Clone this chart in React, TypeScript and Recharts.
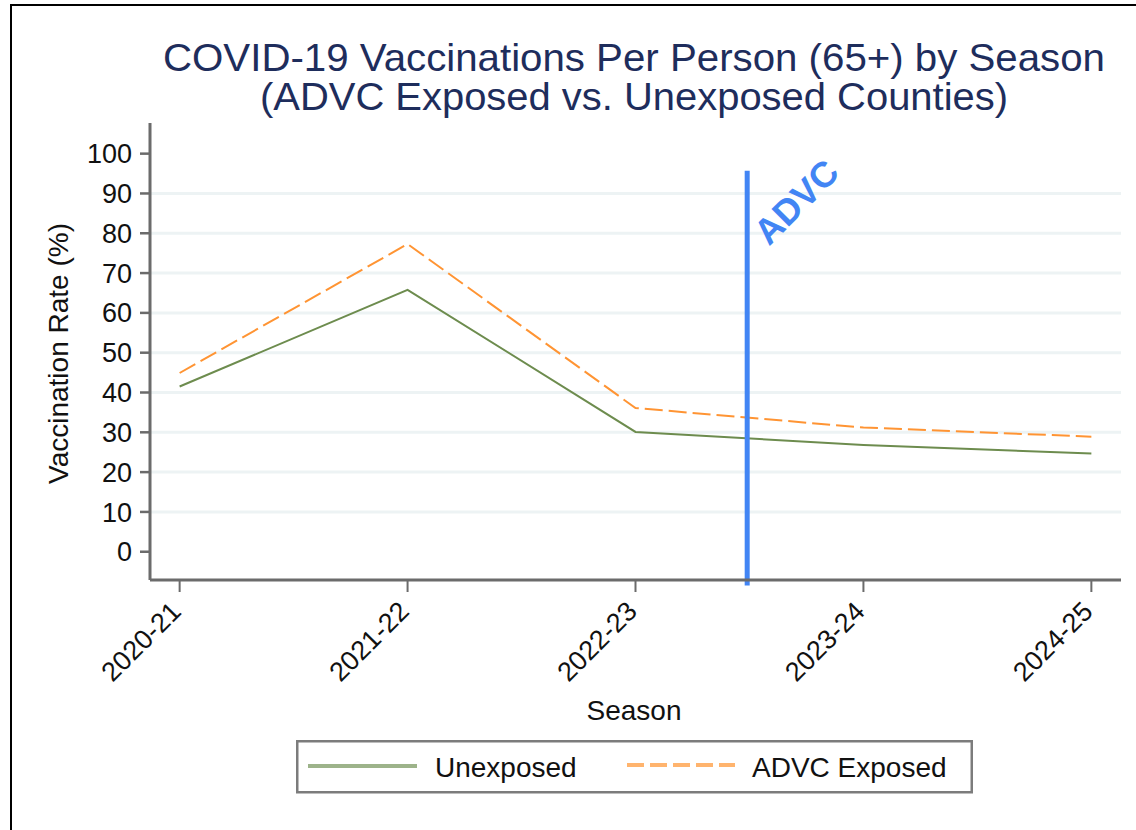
import React from 'react';
import {
  LineChart,
  Line,
  XAxis,
  YAxis,
  CartesianGrid,
  ReferenceLine,
  ReferenceDot,
  Legend,
} from 'recharts';

// ---- data ----
const seasons = ['2020-21', '2021-22', '2022-23', '2023-24', '2024-25'];
const unexposed = [41.5, 65.8, 30.1, 26.8, 24.7];
const advcExposed = [44.9, 77.3, 36.1, 31.2, 28.9];
const yTicks = [0, 10, 20, 30, 40, 50, 60, 70, 80, 90, 100];
const gridValues = [10, 20, 30, 40, 50, 60, 70, 80, 90];
const seriesNames = ['Unexposed', 'ADVC Exposed'];
const advcX = 2.49;
const advcRange = [-8.5, 95.7];
const advcLabelAt = [2.705, 87.9];
const titleLines = [
  'COVID-19 Vaccinations Per Person (65+) by Season',
  '(ADVC Exposed vs. Unexposed Counties)',
];
const xTitle = 'Season';
const yTitle = 'Vaccination Rate (%)';

const data = seasons.map((s, i) => ({
  idx: i,
  season: s,
  unexposed: unexposed[i],
  exposed: advcExposed[i],
}));

const FONT = '"Liberation Sans", Arial, Helvetica, sans-serif';
const GREEN = '#6d8c4e';
const ORANGE = '#ff9433';
const BLUE = '#4285f4';
const AXIS = '#6b6b6b';

const XTick = (props: any) => {
  const { x, y, payload } = props;
  const tx = x + 3;
  const ty = y + 21;
  return (
    <text
      x={tx}
      y={ty}
      transform={`rotate(-45 ${tx} ${ty})`}
      textAnchor="end"
      fontSize={27}
      fontFamily={FONT}
      fill="#111"
    >
      {seasons[payload.value]}
    </text>
  );
};

const renderLegend = () => (
  <svg width={677} height={54} style={{ display: 'block' }}>
    <rect x={1.25} y={1.25} width={674.5} height={51} fill="#fff" stroke="#7c7c7c" strokeWidth={2.5} />
    <line x1={12} y1={26} x2={121} y2={26} stroke="#9db38a" strokeWidth={4} />
    <text x={139} y={37} fontSize={28} fontFamily={FONT} fill="#111">
      {seriesNames[0]}
    </text>
    <line x1={331} y1={25} x2={439} y2={25} stroke="#ffb46e" strokeWidth={4} strokeDasharray="17 6" />
    <text x={456} y={37} fontSize={28} fontFamily={FONT} fill="#111">
      {seriesNames[1]}
    </text>
  </svg>
);

export default function App() {
  return (
    <div
      style={{
        position: 'absolute',
        left: 0,
        top: 0,
        width: 1136,
        height: 830,
        background: '#fff',
        overflow: 'hidden',
      }}
    >
      <LineChart
        width={1136}
        height={830}
        data={data}
        margin={{ top: 123, right: 15, left: 0, bottom: 120 }}
      >
        <CartesianGrid
          vertical={false}
          horizontalValues={gridValues}
          stroke="#edf3f4"
          strokeWidth={3}
        />
        <XAxis
          dataKey="idx"
          type="number"
          domain={[-0.13, 4.13]}
          ticks={[0, 1, 2, 3, 4]}
          interval={0}
          height={130}
          tickSize={12}
          tickMargin={0}
          tick={<XTick />}
          axisLine={{ stroke: AXIS, strokeWidth: 3 }}
          tickLine={{ stroke: AXIS, strokeWidth: 2 }}
        />
        <YAxis
          type="number"
          domain={[-7.1, 107.7]}
          ticks={yTicks}
          interval={0}
          width={150}
          tickSize={10}
          tickMargin={8}
          tick={{ fontSize: 27, fill: '#111', fontFamily: FONT }}
          axisLine={{ stroke: AXIS, strokeWidth: 3 }}
          tickLine={{ stroke: AXIS, strokeWidth: 2.5 }}
        />
        <Line
          type="linear"
          dataKey="unexposed"
          name={seriesNames[0]}
          stroke={GREEN}
          strokeWidth={2}
          dot={false}
          isAnimationActive={false}
        />
        <Line
          type="linear"
          dataKey="exposed"
          name={seriesNames[1]}
          stroke={ORANGE}
          strokeWidth={2}
          strokeDasharray="18 6"
          dot={false}
          isAnimationActive={false}
        />
        <ReferenceLine
          segment={[
            { x: advcX, y: advcRange[0] },
            { x: advcX, y: advcRange[1] },
          ]}
          stroke={BLUE}
          strokeWidth={5}
          ifOverflow="visible"
        />
        <ReferenceDot
          x={advcLabelAt[0]}
          y={advcLabelAt[1]}
          r={0}
          ifOverflow="visible"
          shape={(p: any) => (
            <text
              x={p.cx}
              y={p.cy}
              transform={`rotate(-45 ${p.cx} ${p.cy})`}
              textAnchor="middle"
              dominantBaseline="central"
              fontSize={36}
              fontWeight="bold"
              fontFamily={FONT}
              fill={BLUE}
            >
              ADVC
            </text>
          )}
        />
        <Legend
          layout="horizontal"
          verticalAlign="middle"
          align="center"
          wrapperStyle={{ left: 296, top: 740, width: 677, height: 54 }}
          content={renderLegend}
        />
      </LineChart>
      <svg
        width={1136}
        height={830}
        style={{ position: 'absolute', left: 0, top: 0, pointerEvents: 'none' }}
      >
        <line x1={10} y1={5} x2={1136} y2={5} stroke="#000" strokeWidth={2} />
        <line x1={11} y1={4} x2={11} y2={830} stroke="#000" strokeWidth={2} />
        <text x={634} y={71} textAnchor="middle" fontSize={39} textLength={942} lengthAdjust="spacingAndGlyphs" fontFamily={FONT} fill="#1e2d5c">
          {titleLines[0]}
        </text>
        <text x={634} y={110} textAnchor="middle" fontSize={39} textLength={748} lengthAdjust="spacingAndGlyphs" fontFamily={FONT} fill="#1e2d5c">
          {titleLines[1]}
        </text>
        <text
          x={68}
          y={353.5}
          transform="rotate(-90 68 353.5)"
          textAnchor="middle"
          fontSize={28}
          fontFamily={FONT}
          fill="#111"
        >
          {yTitle}
        </text>
        <text x={634} y={720} textAnchor="middle" fontSize={28} fontFamily={FONT} fill="#111">
          {xTitle}
        </text>
      </svg>
    </div>
  );
}
